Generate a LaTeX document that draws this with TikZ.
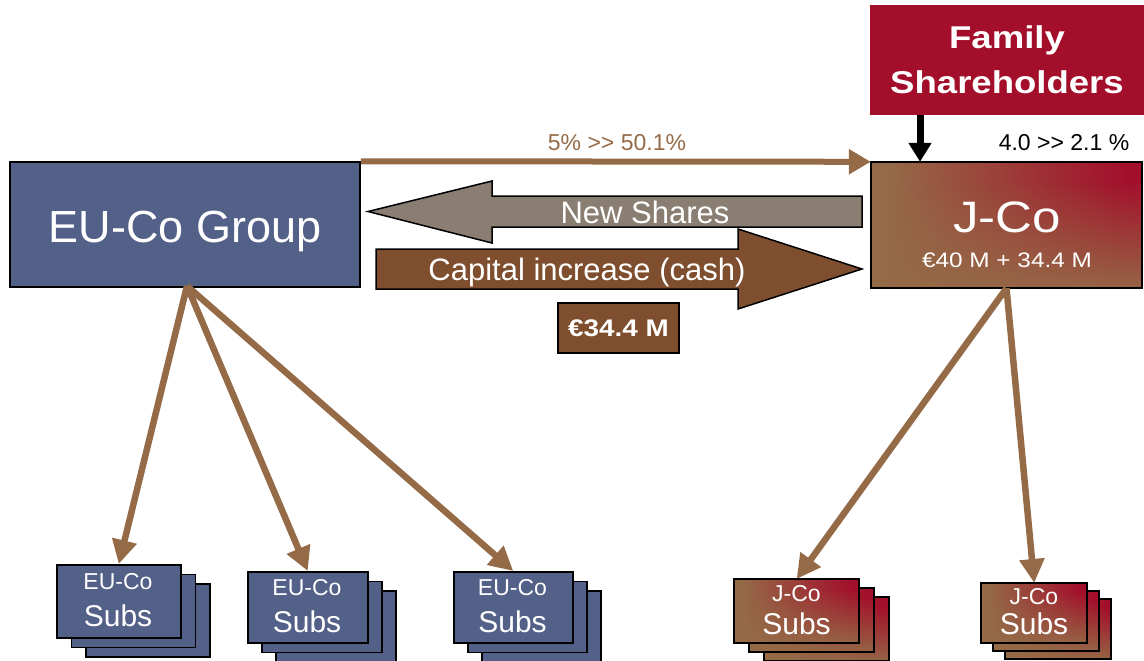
\documentclass[tikz,border=0pt]{standalone}
\usepackage{fontspec}
\setmainfont{Liberation Sans}
\newfontfamily\widesans[FakeStretch=1.16]{Liberation Sans}
\usetikzlibrary{arrows.meta,fadings}

\definecolor{eublue}{RGB}{83,96,135}
\definecolor{jbrown}{RGB}{149,106,71}
\definecolor{jred}{RGB}{163,15,43}
\definecolor{sharegray}{RGB}{138,126,114}
\definecolor{cashbrown}{RGB}{126,78,46}

% J-Co colouring: brown on the left turning red on the right,
% with a brown wash rising from the bottom edge
\pgfdeclarehorizontalshading{jcoh}{100bp}{color(0bp)=(jbrown); color(28bp)=(jbrown); color(72bp)=(jred); color(100bp)=(jred)}
\pgfdeclareverticalshading{jcofadeshading}{100bp}{color(0bp)=(white); color(22bp)=(white); color(68bp)=(black); color(100bp)=(black)}
\pgfdeclarefading{jcofade}{\pgfuseshading{jcofadeshading}}

\tikzset{
  eubox/.style={draw=black, line width=1.5pt, fill=eublue, inner sep=0pt},
  jcobox/.style={shade, shading=jcoh, inner sep=0pt,
    postaction={fill=jbrown, path fading=jcofade},
    postaction={draw=black, line width=1.8pt}},
  whitetext/.style={text=white, inner sep=0pt},
  subupper/.style={whitetext, font=\fontsize{23}{25}\selectfont},
  sublower/.style={whitetext, font=\fontsize{30}{32}\selectfont},
  fanarrow/.style={draw=jbrown, line width=6.5pt, -{Triangle[length=24pt,width=24pt]}},
  toparrow/.style={draw=jbrown, line width=6pt, -{Triangle[length=22pt,width=24pt]}},
  blackarrow/.style={draw=black, line width=7pt, -{Triangle[length=19pt,width=22pt]}},
  blockarrow/.style={draw=black, line width=1.5pt},
}

% a stack of three offset boxes: name, left, top, width, height, dx, dy, box style, upper label
\newcommand{\subsstack}[9]{%
  \node[#8, minimum width=#4pt, minimum height=#5pt, anchor=north west] (#1-c) at (#2+2*#6, #3+2*#7) {};
  \node[#8, minimum width=#4pt, minimum height=#5pt, anchor=north west] (#1-b) at (#2+#6, #3+#7) {};
  \node[#8, minimum width=#4pt, minimum height=#5pt, anchor=north west] (#1) at (#2, #3) {};
  \node[subupper, anchor=base] (#1-top) at (#2+#4/2, #3+0.35*#5) {#9};
  \node[sublower, anchor=base] (#1-sub) at (#2+#4/2, #3+0.86*#5) {Subs};
}

\begin{document}
\begin{tikzpicture}[x=1pt, y=-1pt]
\useasboundingbox (0,0) rectangle (1144,661);

% main boxes
\node[eubox, minimum width=350pt, minimum height=125pt] (eu) at (185,224.5) {};
\node[whitetext, anchor=base, font=\fontsize{45}{47}\selectfont] (eulabel) at (185,242) {EU-Co Group};

\node[fill=jred, minimum width=274pt, minimum height=110pt, text=white, align=center,
      font=\widesans\bfseries\fontsize{31.5}{45}\selectfont] (fam) at (1007,60) {Family\\Shareholders};

\node[jcobox, minimum width=271pt, minimum height=126pt] (jco) at (1006.5,225) {};
\node[whitetext, anchor=base, font=\widesans\fontsize{44}{46}\selectfont] (jconame) at (1007,232) {J-Co};
\node[whitetext, anchor=base, font=\widesans\fontsize{21}{23}\selectfont] (jcoamt) at (1007,267) {€40 M + 34.4 M};

% shareholding arrows
\coordinate (famx) at (920,0);
\draw[blackarrow] (famx |- fam.south) -- (famx |- jco.north);
\node[anchor=base, inner sep=0pt, font=\fontsize{23}{25}\selectfont] (famshare) at (1064,150) {4.0 >{}> 2.1 \%};

\draw[toparrow] (eu.north east) -- (jco.north west);
\node[anchor=base, inner sep=0pt, text=jbrown, font=\fontsize{23}{25}\selectfont] (eushare) at (617,150.5) {5\% >{}> 50.1\%};

% block arrows between the groups
\fill[sharegray, blockarrow] (862,196) -- (492,196) -- (492,181) -- (368,211.5) -- (492,243) -- (492,227) -- (862,227) -- cycle;
\node[whitetext, anchor=base, font=\fontsize{31}{33}\selectfont] (shares) at (645,223) {New Shares};

\fill[cashbrown, blockarrow] (376,249) -- (738,249) -- (738,229) -- (862,269) -- (738,309) -- (738,289) -- (376,289) -- cycle;
\node[whitetext, anchor=base, font=\fontsize{31}{33}\selectfont] (capital) at (587,280) {Capital increase (cash)};

\node[fill=cashbrown, draw=black, line width=1.5pt, minimum width=121pt, minimum height=50pt,
      text=white, font=\widesans\bfseries\fontsize{24}{26}\selectfont] (cash) at (618.5,328) {€34.4 M};

% subsidiaries
\subsstack{eu1}{56}{564}{124}{73}{14.5}{9.5}{eubox}{EU-Co}
\subsstack{eu2}{247}{571}{120}{71}{14}{9.5}{eubox}{EU-Co}
\subsstack{eu3}{453}{571}{119}{71}{14}{9.5}{eubox}{EU-Co}
\subsstack{j1}{734}{579}{125}{64}{15}{9}{jcobox}{J-Co}
\subsstack{j2}{981}{583}{106}{60}{12}{8}{jcobox}{J-Co}

% ownership links to subsidiaries
\coordinate (eufan) at (187,286);
\draw[fanarrow] (eufan) -- (eu1.north);
\draw[fanarrow] (eufan) -- (eu2.north);
\draw[fanarrow] (eufan) -- (eu3.north);
\draw[fanarrow] (jco.south) -- (j1.north);
\draw[fanarrow] (jco.south) -- (j2.north);
\end{tikzpicture}
\end{document}
